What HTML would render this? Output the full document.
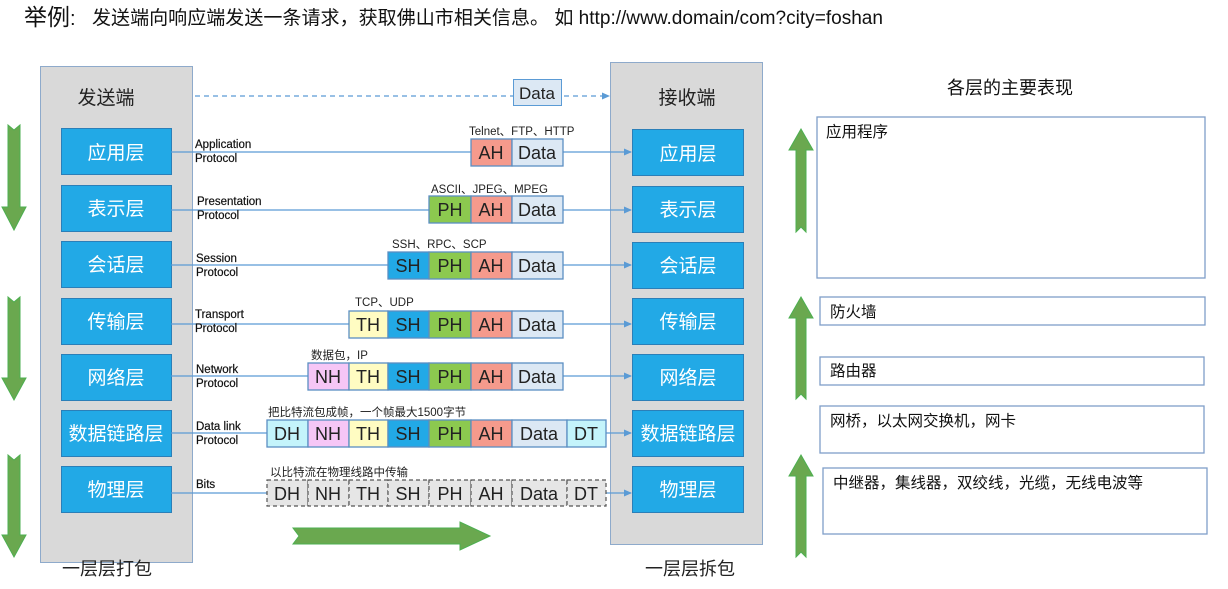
<!DOCTYPE html>
<html><head><meta charset="utf-8"><style>
html,body{margin:0;padding:0;background:#fff;}
svg text{font-family:"Liberation Sans","Noto Sans CJK SC",sans-serif;}
</style></head><body>
<svg width="1228" height="584" viewBox="0 0 1228 584" xmlns="http://www.w3.org/2000/svg">
<defs>
<marker id="ah" markerWidth="8" markerHeight="8" refX="7" refY="4" orient="auto" markerUnits="userSpaceOnUse"><path d="M0,0.5 L8,4 L0,7.5 Z" fill="#5b9bd5"/></marker>
</defs>
<!-- title -->
<text x="24" y="25" font-size="23" fill="#111">举例<tspan font-size="20">:</tspan></text>
<text x="92" y="24" font-size="19" fill="#111" textLength="791" lengthAdjust="spacingAndGlyphs">发送端向响应端发送一条请求，获取佛山市相关信息。 如 http://www.domain/com?city=foshan</text>

<!-- left panel -->
<rect x="40.5" y="66.5" width="152" height="496" fill="#d9d9d9" stroke="#8eaacb"/>
<text x="106" y="104" font-size="19" text-anchor="middle" fill="#222">发送端</text>
<!-- right panel -->
<rect x="610.5" y="62.5" width="152" height="482" fill="#d9d9d9" stroke="#8eaacb"/>
<text x="687" y="104" font-size="19" text-anchor="middle" fill="#222">接收端</text>

<g fill="#22a9e6" stroke="#2b7fb8" stroke-width="1">
<rect x="61.5" y="128.5" width="110" height="46"/>
<rect x="61.5" y="185.5" width="110" height="46"/>
<rect x="61.5" y="241.5" width="110" height="46"/>
<rect x="61.5" y="298.5" width="110" height="46"/>
<rect x="61.5" y="354.5" width="110" height="46"/>
<rect x="61.5" y="410.5" width="110" height="46"/>
<rect x="61.5" y="466.5" width="110" height="46"/>
<rect x="632.5" y="129.5" width="111" height="46"/>
<rect x="632.5" y="186.5" width="111" height="46"/>
<rect x="632.5" y="242.5" width="111" height="46"/>
<rect x="632.5" y="298.5" width="111" height="46"/>
<rect x="632.5" y="354.5" width="111" height="46"/>
<rect x="632.5" y="410.5" width="111" height="46"/>
<rect x="632.5" y="466.5" width="111" height="46"/>
</g>
<g font-size="19" fill="#fff" text-anchor="middle">
<text x="116" y="159">应用层</text><text x="116" y="215">表示层</text><text x="116" y="271">会话层</text>
<text x="116" y="328">传输层</text><text x="116" y="384">网络层</text><text x="116" y="440">数据链路层</text>
<text x="116" y="496">物理层</text>
<text x="688" y="160">应用层</text><text x="688" y="216">表示层</text><text x="688" y="272">会话层</text>
<text x="688" y="328">传输层</text><text x="688" y="384">网络层</text><text x="688" y="440">数据链路层</text>
<text x="688" y="496">物理层</text>
</g>

<!-- lines -->
<g stroke="#5b9bd5" stroke-width="1.3" fill="none">
<line x1="171" y1="152" x2="631" y2="152" marker-end="url(#ah)"/>
<line x1="171" y1="210" x2="631" y2="210" marker-end="url(#ah)"/>
<line x1="171" y1="265" x2="631" y2="265" marker-end="url(#ah)"/>
<line x1="171" y1="324" x2="631" y2="324" marker-end="url(#ah)"/>
<line x1="171" y1="376" x2="631" y2="376" marker-end="url(#ah)"/>
<line x1="171" y1="433" x2="631" y2="433" marker-end="url(#ah)"/>
<line x1="171" y1="493" x2="631" y2="493" marker-end="url(#ah)"/>
<line x1="195" y1="96" x2="609" y2="96" stroke-dasharray="5,4" marker-end="url(#ah)"/>
</g>
<rect x="513.5" y="79.5" width="48" height="26" fill="#dce8f4" stroke="#5b9bd5"/>
<text x="537" y="99" font-size="17" text-anchor="middle" fill="#222">Data</text>

<!-- protocol labels -->
<g font-size="11.5" fill="#111" stroke="#111" stroke-width="0.2">
<text x="195" y="148">Application</text><text x="195" y="162">Protocol</text>
<text x="197" y="205">Presentation</text><text x="197" y="219">Protocol</text>
<text x="196" y="262">Session</text><text x="196" y="276">Protocol</text>
<text x="195" y="318">Transport</text><text x="195" y="332">Protocol</text>
<text x="196" y="373">Network</text><text x="196" y="387">Protocol</text>
<text x="196" y="430">Data link</text><text x="196" y="444">Protocol</text>
<text x="196" y="488">Bits</text>
</g>
<g font-size="11.5" fill="#222">
<text x="469" y="135">Telnet、FTP、HTTP</text>
<text x="431" y="193">ASCII、JPEG、MPEG</text>
<text x="392" y="248">SSH、RPC、SCP</text>
<text x="355" y="306">TCP、UDP</text>
<text x="311" y="359">数据包，IP</text>
<text x="268" y="416">把比特流包成帧，一个帧最大1500字节</text>
<text x="270" y="476">以比特流在物理线路中传输</text>
</g>

<!-- packet cells -->
<g stroke="#5b8ec2" stroke-width="1.3">
<rect x="471" y="139" width="41" height="27" fill="#f59a8c"/><rect x="512" y="139" width="51" height="27" fill="#dce8f4"/>
<rect x="429" y="196" width="42" height="27" fill="#8cc94f"/><rect x="471" y="196" width="41" height="27" fill="#f59a8c"/><rect x="512" y="196" width="51" height="27" fill="#dce8f4"/>
<rect x="388" y="252" width="41" height="27" fill="#22a9e6"/><rect x="429" y="252" width="42" height="27" fill="#8cc94f"/><rect x="471" y="252" width="41" height="27" fill="#f59a8c"/><rect x="512" y="252" width="51" height="27" fill="#dce8f4"/>
<rect x="349" y="311" width="39" height="27" fill="#fffcc2"/><rect x="388" y="311" width="41" height="27" fill="#22a9e6"/><rect x="429" y="311" width="42" height="27" fill="#8cc94f"/><rect x="471" y="311" width="41" height="27" fill="#f59a8c"/><rect x="512" y="311" width="51" height="27" fill="#dce8f4"/>
<rect x="308" y="363" width="41" height="27" fill="#f6c6f6"/><rect x="349" y="363" width="39" height="27" fill="#fffcc2"/><rect x="388" y="363" width="41" height="27" fill="#22a9e6"/><rect x="429" y="363" width="42" height="27" fill="#8cc94f"/><rect x="471" y="363" width="41" height="27" fill="#f59a8c"/><rect x="512" y="363" width="51" height="27" fill="#dce8f4"/>
<rect x="267" y="420" width="41" height="27" fill="#c4f4fb"/><rect x="308" y="420" width="41" height="27" fill="#f6c6f6"/><rect x="349" y="420" width="39" height="27" fill="#fffcc2"/><rect x="388" y="420" width="41" height="27" fill="#22a9e6"/><rect x="429" y="420" width="42" height="27" fill="#8cc94f"/><rect x="471" y="420" width="41" height="27" fill="#f59a8c"/><rect x="512" y="420" width="55" height="27" fill="#dce8f4"/><rect x="567" y="420" width="39" height="27" fill="#c4f4fb"/>
</g>
<g stroke="#555" stroke-width="1.2" stroke-dasharray="4,3" fill="#e6e6e6">
<rect x="267" y="480" width="41" height="26"/><rect x="308" y="480" width="41" height="26"/><rect x="349" y="480" width="39" height="26"/><rect x="388" y="480" width="41" height="26"/><rect x="429" y="480" width="42" height="26"/><rect x="471" y="480" width="41" height="26"/><rect x="512" y="480" width="55" height="26"/><rect x="567" y="480" width="39" height="26"/>
</g>
<g font-size="18" fill="#222" text-anchor="middle">
<text x="491" y="159">AH</text><text x="537" y="159">Data</text>
<text x="450" y="216">PH</text><text x="491" y="216">AH</text><text x="537" y="216">Data</text>
<text x="408" y="272">SH</text><text x="450" y="272">PH</text><text x="491" y="272">AH</text><text x="537" y="272">Data</text>
<text x="368" y="331">TH</text><text x="408" y="331">SH</text><text x="450" y="331">PH</text><text x="491" y="331">AH</text><text x="537" y="331">Data</text>
<text x="328" y="383">NH</text><text x="368" y="383">TH</text><text x="408" y="383">SH</text><text x="450" y="383">PH</text><text x="491" y="383">AH</text><text x="537" y="383">Data</text>
<text x="287" y="440">DH</text><text x="328" y="440">NH</text><text x="368" y="440">TH</text><text x="408" y="440">SH</text><text x="450" y="440">PH</text><text x="491" y="440">AH</text><text x="539" y="440">Data</text><text x="586" y="440">DT</text>
<text x="287" y="500">DH</text><text x="328" y="500">NH</text><text x="368" y="500">TH</text><text x="408" y="500">SH</text><text x="450" y="500">PH</text><text x="491" y="500">AH</text><text x="539" y="500">Data</text><text x="586" y="500">DT</text>
</g>

<!-- green arrows -->
<g fill="#6aa84f" stroke="#4caf50" stroke-width="1">
<path d="M8,125 L14,130 L20,125 L20,207 L26,207 L14,230 L2,207 L8,207 Z"/>
<path d="M8,297 L14,302 L20,297 L20,378 L26,378 L14,400 L2,378 L8,378 Z"/>
<path d="M8,455 L14,460 L20,455 L20,535 L26,535 L14,557 L2,535 L8,535 Z"/>
<path d="M293,528 L460,528 L460,522 L490,536 L460,550 L460,544 L293,544 L299,536 Z"/>
<path d="M796,232 L801,227 L806,232 L806,150 L813,150 L801,129 L789,150 L796,150 Z"/>
<path d="M796,399 L801,394 L806,399 L806,318 L813,318 L801,297 L789,318 L796,318 Z"/>
<path d="M796,557 L801,552 L806,557 L806,476 L813,476 L801,455 L789,476 L796,476 Z"/>
</g>
<text x="62" y="575" font-size="18" fill="#222">一层层打包</text>
<text x="645" y="575" font-size="18" fill="#222">一层层拆包</text>

<!-- right side -->
<text x="1010" y="94" font-size="18" text-anchor="middle" fill="#111">各层的主要表现</text>
<g fill="#fff" stroke="#7f9fc8" stroke-width="1.3">
<rect x="817" y="117" width="388" height="161"/>
<rect x="820" y="297" width="385" height="28"/>
<rect x="820" y="357" width="384" height="28"/>
<rect x="820" y="406" width="384" height="47"/>
<rect x="823" y="468" width="384" height="66"/>
</g>
<g font-size="15.5" fill="#111">
<text x="826" y="137">应用程序</text>
<text x="830" y="317">防火墙</text>
<text x="830" y="376">路由器</text>
<text x="830" y="426">网桥，以太网交换机，网卡</text>
<text x="833" y="488">中继器，集线器，双绞线，光缆，无线电波等</text>
</g>
</svg>
</body></html>
